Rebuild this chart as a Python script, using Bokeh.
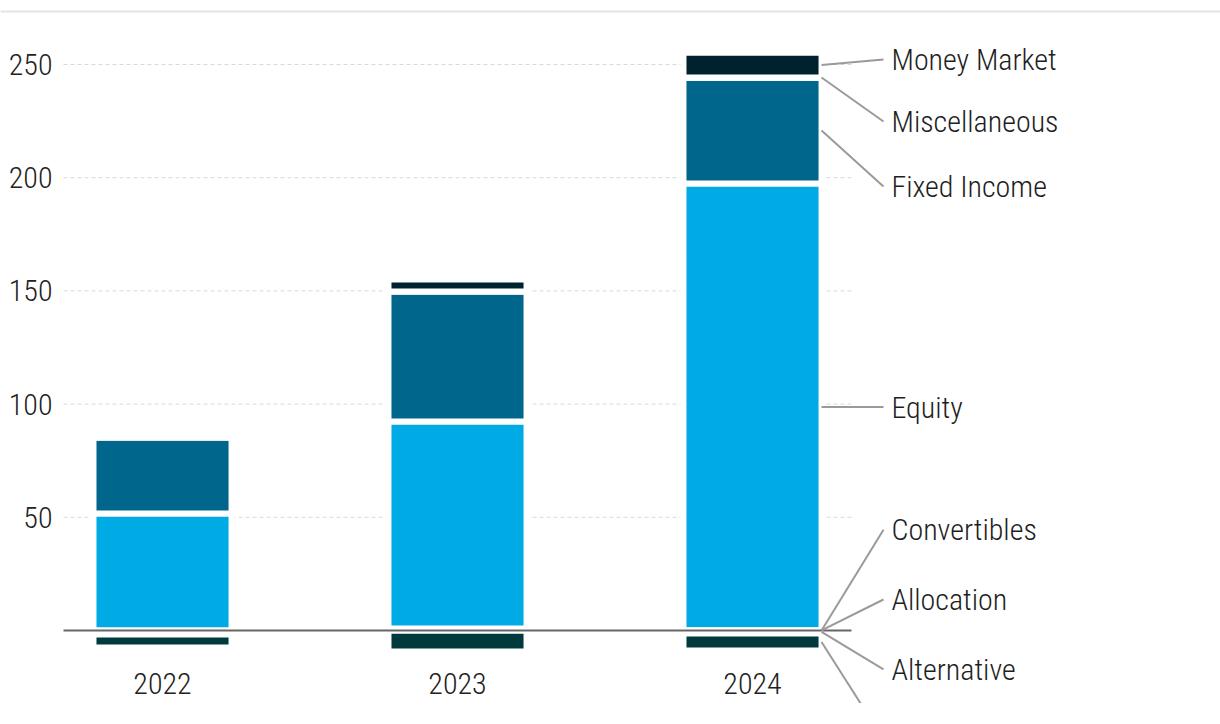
from bokeh.plotting import figure
from bokeh.models import Range1d, FixedTicker, ColumnDataSource, Span
from bokeh.core.properties import value
from bokeh.embed import file_html
from bokeh.resources import INLINE

# ---------------- data ----------------
years = ["2022", "2023", "2024"]
x_pos = [0, 1, 2]

pos_series = ["Convertibles", "Allocation", "Equity", "Fixed Income", "Miscellaneous", "Money Market"]
neg_series = ["Alternative", "Commodities"]

convertibles = [0.0, 0.0, 0.0]
allocation = [0.0, 0.9, 0.1]
equity = [51.7, 91.4, 197.3]
fixed_income = [33.5, 57.4, 46.8]
miscellaneous = [0.0, 0.0, 0.1]
money_market = [0.0, 5.3, 10.9]
alternative = [-1.8, -0.1, -1.3]
commodities = [-5.7, -9.2, -7.5]

y_ticks = [50, 100, 150, 200, 250]

colors = {
    "Convertibles": "#7fcfee",
    "Allocation": "#4fb8d8",
    "Equity": "#00aae4",
    "Fixed Income": "#00668b",
    "Miscellaneous": "#5a7f8c",
    "Money Market": "#00212e",
    "Alternative": "#2f6f73",
    "Commodities": "#003a3d",
}

# callout labels (in data units of the y axis)
label_names = ["Money Market", "Miscellaneous", "Fixed Income", "Equity",
               "Convertibles", "Allocation", "Alternative"]
label_y = [252.2, 224.8, 196.1, 98.7, 44.5, 13.7, -17.2]
hidden_label_y = -48.1  # line to the label that falls below the chart

FONT = "'Roboto Condensed Light', 'Roboto Condensed', sans-serif"

# ---------------- figure ----------------
BAR_W = 0.468
x_left, x_right = -0.5492, 3.5864
plot_x0, plot_x1 = -0.3356, 2.3356

p = figure(width=1220, height=703, output_backend="svg", toolbar_location=None,
           x_range=Range1d(x_left, x_right), y_range=Range1d(-32.24, 278.27),
           min_border=0)
p.outline_line_color = None
p.background_fill_color = "white"
p.border_fill_color = "white"
p.xgrid.visible = False
p.ygrid.visible = False

# top rule
p.add_layout(Span(location=273.4, dimension="width", line_color="#e4e4e4", line_width=2))

# grid lines
p.segment(x0=[plot_x0] * len(y_ticks), x1=[plot_x1] * len(y_ticks), y0=y_ticks, y1=y_ticks,
          line_color="#d9d9d9", line_width=1, line_dash="4 3")

data = dict(x=x_pos, years=years)
pos_vals = [convertibles, allocation, equity, fixed_income, miscellaneous, money_market]
neg_vals = [alternative, commodities]
for n, v in zip(pos_series, pos_vals):
    data[n] = v
for n, v in zip(neg_series, neg_vals):
    data[n] = v
src = ColumnDataSource(data)

p.vbar_stack(pos_series, x="x", width=BAR_W, source=src,
             color=[colors[n] for n in pos_series], line_color="white", line_width=6)
p.vbar_stack(neg_series, x="x", width=BAR_W, source=src,
             color=[colors[n] for n in neg_series], line_color="white", line_width=6)

# zero line
p.segment(x0=[plot_x0], x1=[plot_x1], y0=[0], y1=[0], line_color="#666666", line_width=2)

# callouts for the last bar
last = len(years) - 1
mids = {}
cum = 0.0
for n, v in zip(pos_series, pos_vals):
    mids[n] = cum + v[last] / 2
    cum += v[last]
cum = 0.0
for n, v in zip(neg_series, neg_vals):
    mids[n] = cum + v[last] / 2
    cum += v[last]

cx0 = x_pos[last] + BAR_W / 2
cx1 = 2.444
tx = 2.471
y0s = [mids[n] for n in label_names] + [mids["Commodities"]]
y1s = label_y + [hidden_label_y]
p.segment(x0=[cx0] * len(y0s), x1=[cx1] * len(y0s), y0=y0s, y1=y1s,
          line_color="#9a9a9a", line_width=2)
p.text(x=[tx] * len(label_names), y=label_y, text=label_names,
       text_font=value(FONT), text_font_size="30px", text_color="#1e1e1e",
       text_baseline="middle", text_align="left")

# axes
xa = p.xaxis[0]
xa.fixed_location = 0
xa.ticker = FixedTicker(ticks=x_pos)
xa.major_label_overrides = {i: y for i, y in zip(x_pos, years)}
xa.axis_line_color = None
xa.major_tick_line_color = None
xa.minor_tick_line_color = None
xa.major_tick_out = 0
xa.major_tick_in = 0
xa.major_label_standoff = 42
xa.major_label_text_font = FONT
xa.major_label_text_font_size = "30px"
xa.major_label_text_color = "#222222"

ya = p.yaxis[0]
ya.fixed_location = plot_x0
ya.ticker = FixedTicker(ticks=y_ticks)
ya.axis_line_color = None
ya.major_tick_line_color = None
ya.minor_tick_line_color = None
ya.major_tick_out = 0
ya.major_tick_in = 0
ya.major_label_standoff = 11
ya.major_label_text_font = FONT
ya.major_label_text_font_size = "30px"
ya.major_label_text_color = "#222222"

open("out.html", "w").write(file_html(p, INLINE))
